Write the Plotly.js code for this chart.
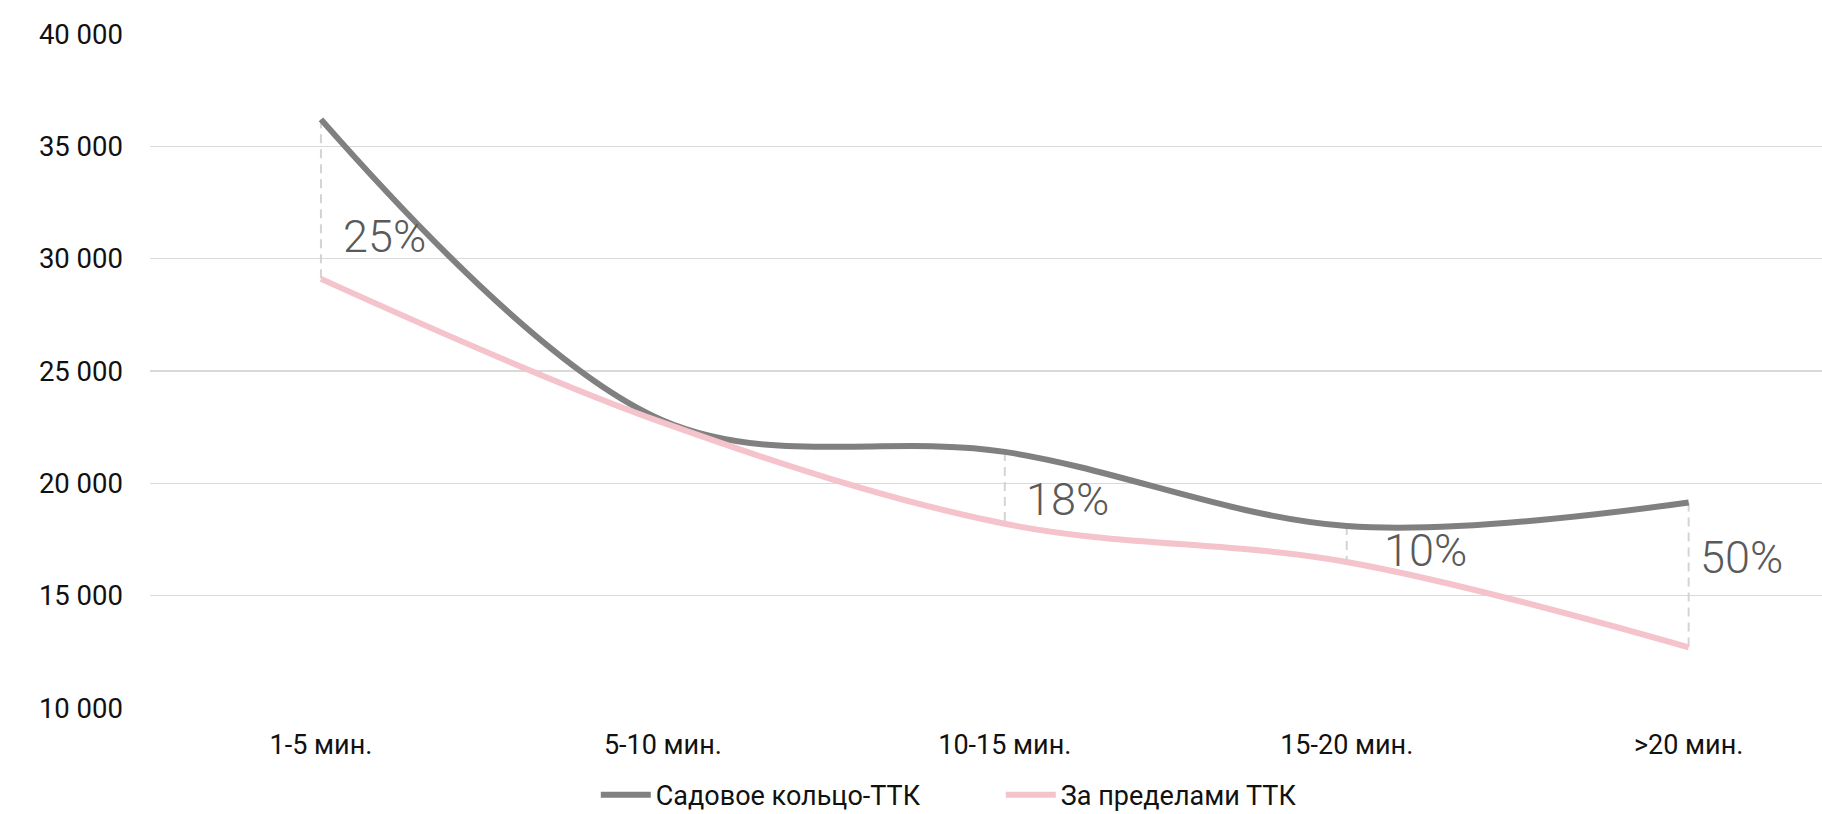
<!DOCTYPE html>
<html>
<head>
<meta charset="utf-8">
<script src="https://cdn.plot.ly/plotly-3.0.1.min.js"></script>
<style>
  html, body { margin: 0; padding: 0; background: #ffffff; }
  #chart { width: 1822px; height: 814px; }
</style>
</head>
<body>
<div id="chart"></div>
<script>
// Travel-time buckets
const categories = ['1-5 мин.', '5-10 мин.', '10-15 мин.', '15-20 мин.', '>20 мин.'];

// Series values
const ringValues    = [36200, 22800, 21400, 18100, 19150]; // Садовое кольцо-ТТК
const outsideValues = [29100, 22700, 18200, 16500, 12700]; // За пределами ТТК

// Gap labels and the buckets they belong to
const gapIndex  = [0, 2, 3, 4];
const gapLabels = ['25%', '18%', '10%', '50%'];

// Y axis ticks
const yTickVals = [10000, 15000, 20000, 25000, 30000, 35000, 40000];
const yTickText = ['10 000', '15 000', '20 000', '25 000', '30 000', '35 000', '40 000'];

const traces = [];

// dashed connectors between the two series
gapIndex.forEach(function (i) {
  traces.push({
    x: [categories[i], categories[i]],
    y: [ringValues[i], outsideValues[i]],
    mode: 'lines',
    line: { color: '#d4d4d4', width: 2, dash: '9px,6px' },
    showlegend: false,
    hoverinfo: 'skip'
  });
});

traces.push({
  x: categories,
  y: ringValues,
  name: 'Садовое кольцо-ТТК',
  mode: 'lines',
  line: { color: '#808080', width: 6, shape: 'spline', smoothing: 1 }
});
traces.push({
  x: categories,
  y: outsideValues,
  name: 'За пределами ТТК',
  mode: 'lines',
  line: { color: '#f4c3cc', width: 6, shape: 'spline', smoothing: 1 }
});

// label placement (offsets in px, vertical position in axis units)
const labelPos = [
  { xshift: 64, y: 31000 },
  { xshift: 63, y: 19260 },
  { xshift: 79, y: 16990 },
  { xshift: 53, y: 16680 }
];

const annotations = gapIndex.map(function (i, k) {
  return {
    x: i,
    y: labelPos[k].y,
    xref: 'x', yref: 'y',
    xanchor: 'center', yanchor: 'middle',
    xshift: labelPos[k].xshift,
    text: gapLabels[k],
    showarrow: false,
    font: { family: 'Roboto', size: 45, color: '#5a5a5a', weight: 300 }
  };
});

const layout = {
  width: 1822,
  height: 814,
  margin: { l: 150, r: 0, t: 34, b: 106 },
  paper_bgcolor: '#ffffff',
  plot_bgcolor: '#ffffff',
  font: { family: 'Roboto', size: 27, color: '#111111' },
  showlegend: true,
  legend: {
    orientation: 'h',
    xref: 'container', yref: 'container',
    x: 0.327, xanchor: 'left',
    y: 0.023, yanchor: 'middle',
    font: { family: 'Roboto', size: 27, color: '#111111' },
    itemwidth: 50,
    entrywidth: 340,
    entrywidthmode: 'pixels',
    traceorder: 'normal'
  },
  xaxis: {
    type: 'category',
    categoryorder: 'array',
    categoryarray: categories,
    range: [-0.5, 4.39],
    showgrid: false,
    zeroline: false,
    showline: false,
    ticks: '',
    ticklabelstandoff: 18,
    tickfont: { family: 'Roboto', size: 27, color: '#111111' },
    fixedrange: true
  },
  yaxis: {
    range: [10000, 40000],
    tickvals: yTickVals,
    ticktext: yTickText,
    showgrid: true,
    gridcolor: '#d9d9d9',
    gridwidth: 1.5,
    zeroline: false,
    showline: false,
    ticks: '',
    ticklabelstandoff: 26,
    tickfont: { family: 'Roboto', size: 27.5, color: '#111111' },
    fixedrange: true
  },
  annotations: annotations
};

Plotly.newPlot('chart', traces, layout, { displayModeBar: false, staticPlot: true });
</script>
</body>
</html>
